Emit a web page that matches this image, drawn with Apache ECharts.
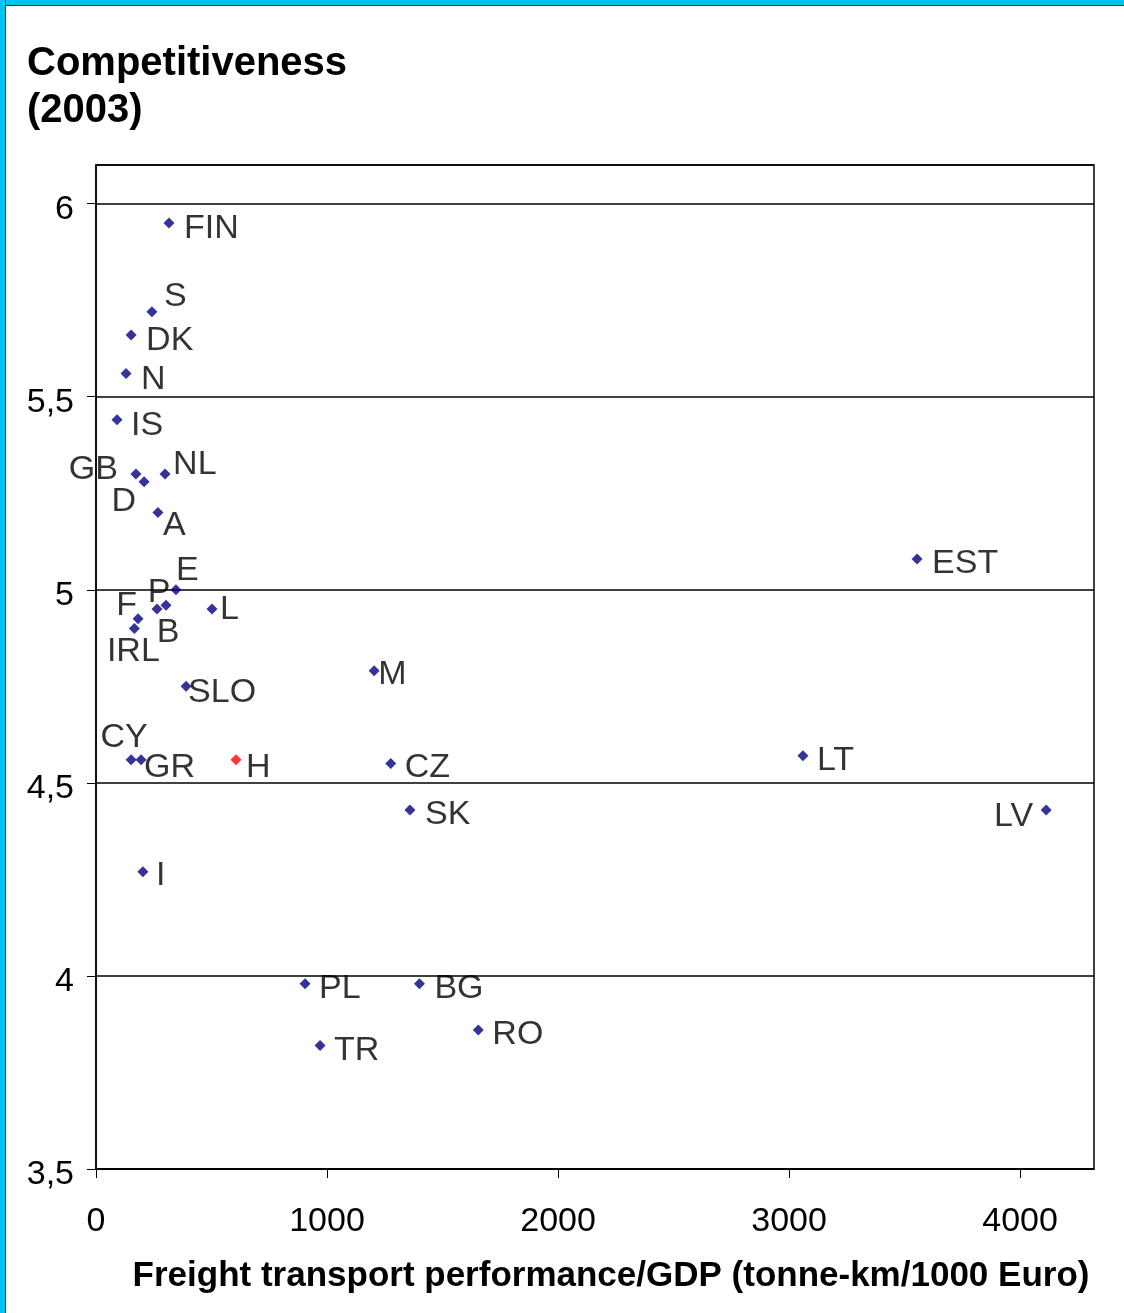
<!DOCTYPE html>
<html>
<head>
<meta charset="utf-8">
<script src="https://cdn.jsdelivr.net/npm/echarts@6/dist/echarts.min.js"></script>
<style>
  html, body { margin: 0; padding: 0; background: #fff; }
  #chart { position: absolute; left: 0; top: 0; width: 1124px; height: 1313px; }
  #frameL { position: absolute; left: 0; top: 0; width: 5px; height: 1313px; background: #00c2ee; border-right: 1px solid #1a3a4a; }
  #frameT { position: absolute; left: 0; top: 0; width: 1124px; height: 5px; background: #00c2ee; border-bottom: 1px solid #1a3a4a; }
</style>
</head>
<body>
<div id="chart"></div>
<div id="frameT"></div>
<div id="frameL"></div>
<script>
// ---- data ----
const countries = ['FIN','S','DK','N','IS','GB','D','NL','A','E','P','B','F','IRL','L','SLO','M','CY','GR','H','CZ','SK','LT','EST','LV','I','PL','BG','TR','RO'];
const freight = [316, 242, 152, 130, 91, 173, 208, 299, 268, 346, 303, 264, 182, 166, 502, 390, 1204, 152, 195, 606, 1276, 1359, 3060, 3554, 4113, 203, 905, 1400, 970, 1655];
const competitiveness = [5.95, 5.72, 5.66, 5.56, 5.44, 5.30, 5.28, 5.30, 5.20, 5.00, 4.96, 4.95, 4.925, 4.90, 4.95, 4.75, 4.79, 4.56, 4.56, 4.56, 4.55, 4.43, 4.57, 5.08, 4.43, 4.27, 3.98, 3.98, 3.82, 3.86];
const highlighted = ['H'];
const yTicks = [3.5, 4, 4.5, 5, 5.5, 6];
const xTicks = [0, 1000, 2000, 3000, 4000];

// label placement (align, dx, dy from point centre)
const labelPlace = {
  FIN:['left',15,6], S:['left',12,-15], DK:['left',15,6], N:['left',15,6], IS:['left',14,6],
  GB:['right',-18,-4], D:['right',-8,20], NL:['left',8,-9], A:['left',5,13], E:['left',0,-19],
  P:['center',-7,-13], B:['center',11,24], F:['right',-1,-13], IRL:['center',-1,23], L:['left',8,1],
  SLO:['left',2,6], M:['left',4,4], CY:['center',-7,-22], GR:['left',3,8], H:['left',10,8],
  CZ:['left',14,4], SK:['left',15,5], LT:['left',14,5], EST:['left',15,5], LV:['right',-13,7],
  I:['left',13,4], PL:['left',14,5], BG:['left',15,5], TR:['left',14,5], RO:['left',14,5]
};

const FONT = 'Liberation Sans, Arial, Helvetica, sans-serif';

const data = countries.map((c, i) => {
  const p = labelPlace[c] || ['left', 15, 4];
  const item = {
    name: c,
    value: [freight[i], competitiveness[i]],
    label: { align: p[0], offset: [p[1], p[2]] }
  };
  if (highlighted.includes(c)) item.itemStyle = { color: '#ff0000' };
  return item;
});

const chart = echarts.init(document.getElementById('chart'), null, { renderer: 'canvas' });
chart.setOption({
  animation: false,
  backgroundColor: '#ffffff',
  title: {
    text: 'Competitiveness\n(2003)',
    left: 27,
    top: 40,
    padding: 0,
    textStyle: { fontFamily: FONT, fontSize: 40, fontWeight: 'bold', color: '#000', lineHeight: 47 }
  },
  grid: {
    left: 96, right: 30, top: 165, bottom: 144,
    show: true, borderColor: '#000', borderWidth: 1.5, backgroundColor: 'transparent'
  },
  xAxis: {
    type: 'value',
    min: 0, max: 4320, interval: 1000,
    name: 'Freight transport performance/GDP (tonne-km/1000 Euro)',
    nameLocation: 'middle',
    nameGap: 90,
    nameTextStyle: { fontFamily: FONT, fontSize: 35, fontWeight: 'bold', color: '#000', padding: [0, 0, 0, 32] },
    axisLine: { show: true, onZero: false, lineStyle: { color: '#000', width: 1.5 } },
    axisTick: { show: true, inside: false, length: 9, lineStyle: { color: '#000', width: 1 } },
    axisLabel: {
      fontFamily: FONT, fontSize: 34, color: '#000', margin: 36,
      showMaxLabel: false,
      formatter: v => xTicks.includes(v) ? String(v) : ''
    },
    splitLine: { show: false }
  },
  yAxis: {
    type: 'value',
    min: 3.5, max: 6.1, interval: 0.5,
    axisLine: { show: true, onZero: false, lineStyle: { color: '#000', width: 1.5 } },
    axisTick: { show: true, inside: false, length: 9, lineStyle: { color: '#000', width: 1 } },
    axisLabel: {
      fontFamily: FONT, fontSize: 34, color: '#000', margin: 22,
      showMaxLabel: false,
      formatter: v => yTicks.some(t => Math.abs(t - v) < 1e-9) ? '{t|' + String(v).replace('.', ',') + '}' : '',
      rich: { t: { fontFamily: FONT, fontSize: 34, color: '#000', padding: [12, 0, 0, 0] } }
    },
    splitLine: { show: true, lineStyle: { color: '#000', width: 1.5 } }
  },
  series: [{
    type: 'scatter',
    symbol: 'diamond',
    symbolSize: 11,
    itemStyle: { color: '#000080' },
    label: {
      show: true,
      position: 'inside',
      formatter: '{b}',
      fontFamily: FONT,
      fontSize: 34,
      color: '#000',
      verticalAlign: 'middle'
    },
    emphasis: { disabled: true },
    data: data
  }]
});
</script>
</body>
</html>
